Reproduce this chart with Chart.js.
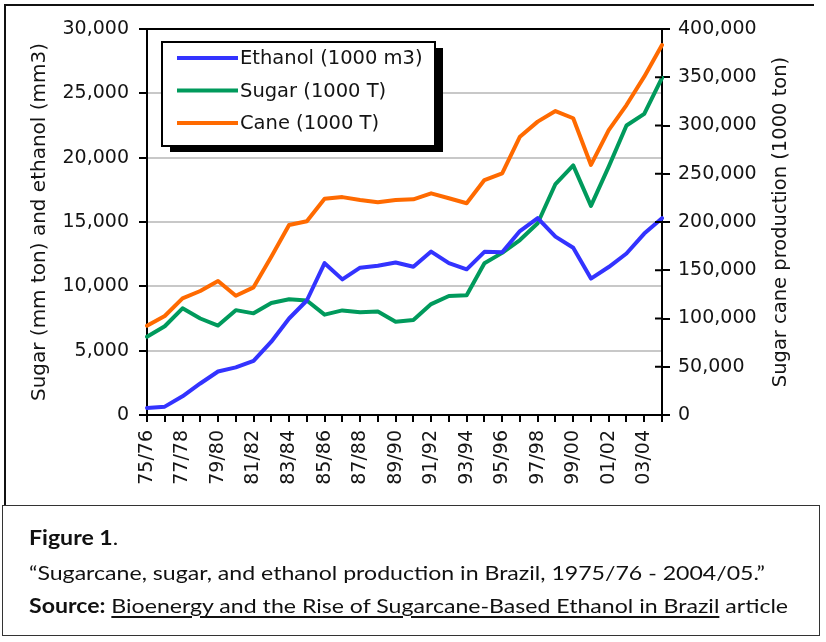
<!DOCTYPE html>
<html><head><meta charset="utf-8">
<script src="https://cdn.jsdelivr.net/npm/chart.js@4/dist/chart.umd.min.js"></script>
<style>
html,body{margin:0;padding:0;background:#fff;width:826px;height:642px;overflow:hidden;}
#wrap{position:relative;width:826px;height:642px;}
#c{position:absolute;left:0;top:0;}
.frameTop{position:absolute;left:4px;top:4px;width:810px;height:2px;background:#111;}
.frameLeft{position:absolute;left:4px;top:4px;width:2px;height:502px;background:#111;}
.caption{position:absolute;left:2px;top:505px;width:818px;height:131px;border:1.5px solid #333;box-sizing:border-box;}
.line{position:absolute;left:26px;font-family:Lato,"Open Sans",sans-serif;font-size:20px;color:#111;white-space:nowrap;line-height:24px;transform:scaleX(1.155);transform-origin:0 50%;}
.line b{font-weight:700;}
.line u{text-decoration:underline;text-underline-offset:3px;}
</style></head>
<body>
<div id="wrap">
<canvas id="c" width="826" height="506"></canvas>
<div class="frameTop"></div>
<div class="frameLeft"></div>
<div class="caption">
  <div class="line" style="top:19px"><b>Figure 1</b>.</div>
  <div class="line" style="top:54px">“Sugarcane, sugar, and ethanol production in Brazil, 1975/76 - 2004/05.”</div>
  <div class="line" style="top:87px"><b>Source:</b> <u>Bioenergy and the Rise of Sugarcane-Based Ethanol in Brazil</u> article</div>
</div>
</div>
<script>
const seasons = ['75/76','76/77','77/78','78/79','79/80','80/81','81/82','82/83','83/84','84/85',
  '85/86','86/87','87/88','88/89','89/90','90/91','91/92','92/93','93/94','94/95',
  '95/96','96/97','97/98','98/99','99/00','00/01','01/02','02/03','03/04','04/05'];
const ethanol = [550, 650, 1450, 2450, 3380, 3700, 4200, 5700, 7500, 8900,
  11800, 10540, 11450, 11600, 11850, 11520, 12700, 11800, 11320, 12680,
  12650, 14300, 15300, 13860, 13000, 10600, 11500, 12550, 14100, 15300];
const sugar = [6080, 6900, 8290, 7500, 6950, 8150, 7900, 8700, 9000, 8900,
  7800, 8130, 7980, 8050, 7250, 7380, 8620, 9250, 9300, 11800,
  12600, 13600, 14900, 17950, 19400, 16250, 19300, 22500, 23400, 26200];
const cane = [92500, 102600, 120900, 128500, 138900, 123600, 132300, 164000, 196900, 200800,
  224000, 225800, 222800, 220400, 222800, 223500, 229700, 224600, 219400, 243500,
  250500, 288400, 304000, 315000, 307500, 259100, 295300, 321200, 350600, 383400];
const seriesNames = ['Ethanol (1000 m3)', 'Sugar (1000 T)', 'Cane (1000 T)'];
const seriesColors = ['#3333ff', '#009a5c', '#ff6a00'];
const leftMax = 30000, leftStep = 5000;
const rightMax = 400000, rightStep = 50000;
const leftTitle = 'Sugar (mm ton) and ethanol (mm3)';
const rightTitle = 'Sugar cane production (1000 ton)';

const FONT = 'DejaVu Sans';
const TXT = '#141414';

const extras = {
  id: 'extras',
  afterDraw(chart) {
    const ctx = chart.ctx, ca = chart.chartArea;
    ctx.save();
    ctx.strokeStyle = '#000'; ctx.lineWidth = 2;
    ctx.beginPath(); ctx.moveTo(ca.left - 1, ca.top); ctx.lineTo(ca.right + 1, ca.top); ctx.stroke();
    const y1 = chart.scales.y1;
    y1.ticks.forEach((t, i) => {
      const py = y1.getPixelForTick(i);
      ctx.beginPath(); ctx.moveTo(y1.left - 7, py); ctx.lineTo(y1.left, py); ctx.stroke();
    });
    ctx.fillStyle = TXT;
    ctx.font = '19.5px "' + FONT + '"';
    ctx.textAlign = 'center'; ctx.textBaseline = 'middle';
    ctx.translate(781, (ca.top + ca.bottom) / 2);
    ctx.rotate(-Math.PI / 2);
    ctx.fillText(rightTitle, 0, 0);
    ctx.restore();

    ctx.save();
    const lx = ca.left + 15, ly = ca.top + 13, lw = 273, lh = 104;
    ctx.fillStyle = '#000'; ctx.fillRect(lx + 8, ly + 6, lw, lh);
    ctx.fillStyle = '#fff'; ctx.fillRect(lx, ly, lw, lh);
    ctx.strokeStyle = '#000'; ctx.lineWidth = 2; ctx.strokeRect(lx, ly, lw, lh);
    ctx.font = '19.5px "' + FONT + '"';
    ctx.textAlign = 'left'; ctx.textBaseline = 'middle';
    chart.data.datasets.forEach((ds, i) => {
      const yy = ly + 16 + i * 32.5;
      ctx.strokeStyle = ds.borderColor; ctx.lineWidth = 4;
      ctx.beginPath(); ctx.moveTo(lx + 15, yy); ctx.lineTo(lx + 76, yy); ctx.stroke();
      ctx.fillStyle = TXT;
      ctx.fillText(ds.label, lx + 78, yy + 1);
    });
    ctx.restore();
  }
};

new Chart(document.getElementById('c'), {
  type: 'line',
  data: {
    labels: seasons,
    datasets: [
      { label: seriesNames[0], data: ethanol, yAxisID: 'y', borderColor: seriesColors[0], backgroundColor: seriesColors[0] },
      { label: seriesNames[1], data: sugar, yAxisID: 'y', borderColor: seriesColors[1], backgroundColor: seriesColors[1] },
      { label: seriesNames[2], data: cane, yAxisID: 'y1', borderColor: seriesColors[2], backgroundColor: seriesColors[2] }
    ]
  },
  options: {
    responsive: false,
    animation: false,
    devicePixelRatio: 1,
    layout: { padding: { top: 29, left: 0, right: 0, bottom: 0 } },
    elements: { point: { radius: 0 }, line: { borderWidth: 4, tension: 0, borderJoinStyle: 'round', borderCapStyle: 'round' } },
    plugins: { legend: { display: false }, tooltip: { enabled: false } },
    scales: {
      x: {
        type: 'category',
        offset: false,
        grid: { display: true, drawOnChartArea: false, tickLength: 7, color: '#000', lineWidth: 2 },
        border: { color: '#000', width: 2 },
        ticks: {
          autoSkip: false, maxRotation: 90, minRotation: 90, padding: 8,
          font: { family: FONT, size: 19 }, color: TXT,
          callback: (v, i) => (i % 2 === 0 ? seasons[i] : '')
        },
        afterFit: s => { s.height = 91; }
      },
      y: {
        position: 'left', min: 0, max: leftMax,
        grid: { color: '#c8c8c8', lineWidth: 2, tickColor: '#000', tickWidth: 2, tickLength: 8 },
        border: { color: '#000', width: 2 },
        ticks: { stepSize: leftStep, padding: 10, font: { family: FONT, size: 19 }, color: TXT },
        title: { display: true, text: leftTitle, font: { family: FONT, size: 20 }, color: TXT, padding: { top: 28, bottom: 0 } },
        afterFit: s => { s.width = 147; }
      },
      y1: {
        position: 'right', min: 0, max: rightMax,
        grid: { drawOnChartArea: false, color: '#000', lineWidth: 2, tickLength: 8 },
        border: { color: '#000', width: 2 },
        ticks: { stepSize: rightStep, padding: 8, font: { family: FONT, size: 19 }, color: TXT },
        afterFit: s => { s.width = 164; }
      }
    }
  },
  plugins: [extras]
});
</script>
</body></html>
